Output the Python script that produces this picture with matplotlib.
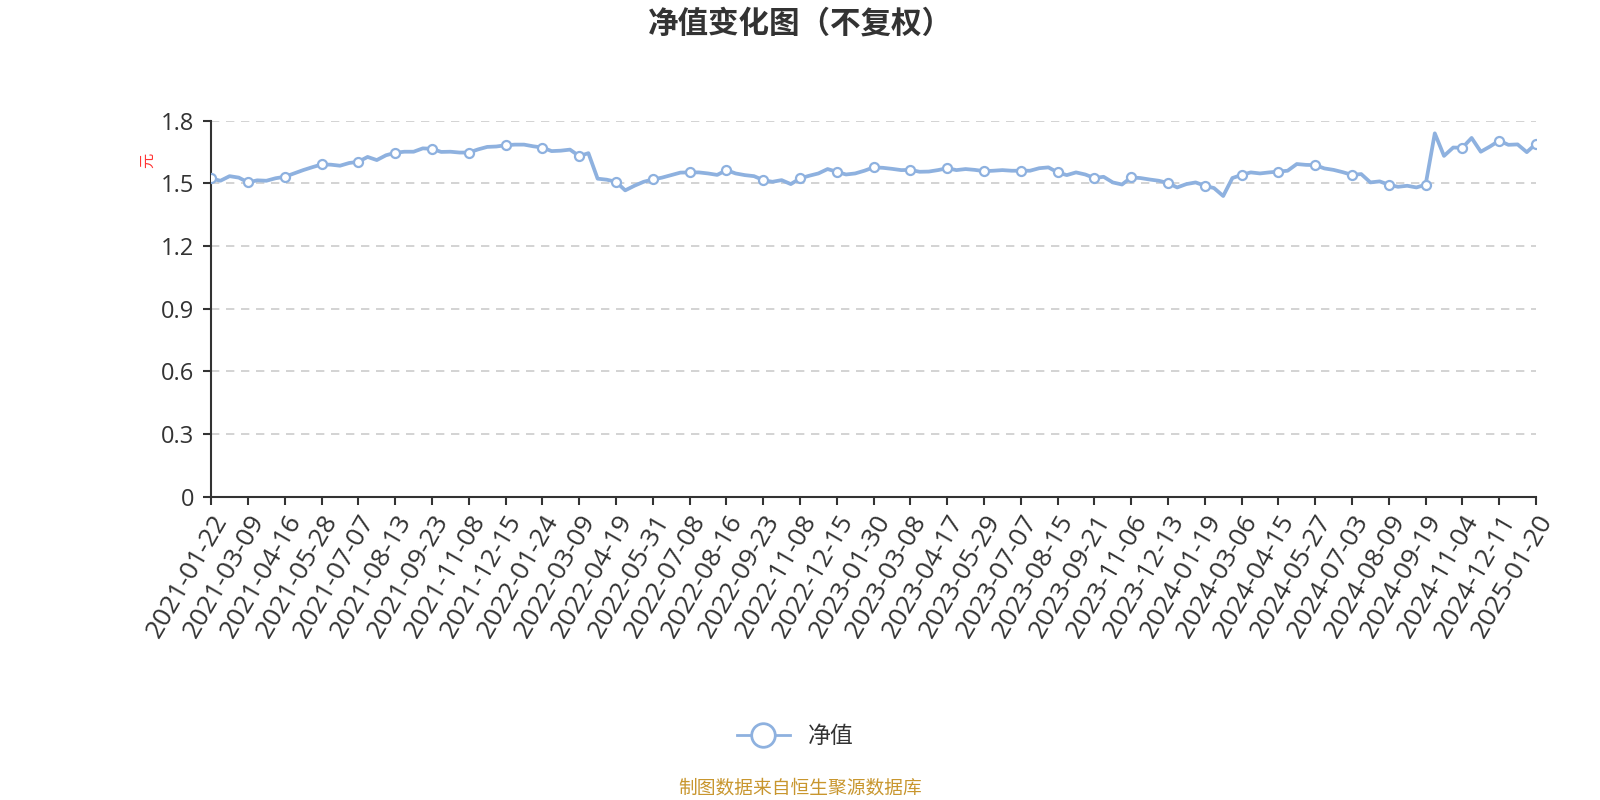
import matplotlib
matplotlib.use("Agg")
import matplotlib.pyplot as plt
from matplotlib.lines import Line2D
from matplotlib.ticker import FixedLocator, FuncFormatter

plt.rcParams['font.family'] = ['Noto Sans CJK SC', 'DejaVu Sans']

# tick dates (one every 4 data points)
tick_dates = ['2021-01-22', '2021-03-09', '2021-04-16', '2021-05-28', '2021-07-07',
              '2021-08-13', '2021-09-23', '2021-11-08', '2021-12-15', '2022-01-24',
              '2022-03-09', '2022-04-19', '2022-05-31', '2022-07-08', '2022-08-16',
              '2022-09-23', '2022-11-08', '2022-12-15', '2023-01-30', '2023-03-08',
              '2023-04-17', '2023-05-29', '2023-07-07', '2023-08-15', '2023-09-21',
              '2023-11-06', '2023-12-13', '2024-01-19', '2024-03-06', '2024-04-15',
              '2024-05-27', '2024-07-03', '2024-08-09', '2024-09-19', '2024-11-04',
              '2024-12-11', '2025-01-20']

# net value
nav = [1.524, 1.513, 1.535, 1.528,
       1.505, 1.515, 1.513, 1.525,
       1.532, 1.548, 1.564, 1.578,
       1.591, 1.590, 1.585, 1.598,
       1.604, 1.627, 1.612, 1.635,
       1.647, 1.652, 1.652, 1.668,
       1.666, 1.651, 1.652, 1.648,
       1.648, 1.663, 1.675, 1.677,
       1.683, 1.686, 1.686, 1.678,
       1.672, 1.655, 1.657, 1.662,
       1.631, 1.645, 1.523, 1.518,
       1.508, 1.467, 1.489, 1.508,
       1.519, 1.528, 1.540, 1.552,
       1.553, 1.553, 1.548, 1.541,
       1.564, 1.548, 1.540, 1.535,
       1.516, 1.508, 1.516, 1.497,
       1.524, 1.537, 1.548, 1.569,
       1.556, 1.543, 1.548, 1.561,
       1.577, 1.575, 1.570, 1.564,
       1.565, 1.556, 1.557, 1.564,
       1.573, 1.564, 1.569, 1.565,
       1.559, 1.561, 1.564, 1.561,
       1.561, 1.561, 1.573, 1.577,
       1.553, 1.540, 1.553, 1.543,
       1.526, 1.532, 1.505, 1.495,
       1.529, 1.526, 1.519, 1.513,
       1.502, 1.481, 1.497, 1.505,
       1.489, 1.478, 1.440, 1.526,
       1.541, 1.553, 1.548, 1.553,
       1.557, 1.561, 1.593, 1.589,
       1.588, 1.572, 1.565, 1.554,
       1.541, 1.545, 1.505, 1.510,
       1.494, 1.484, 1.489, 1.481,
       1.494, 1.740, 1.632, 1.672,
       1.671, 1.718, 1.652, 1.677,
       1.705, 1.685, 1.687, 1.650,
       1.690]

step = 4
x = list(range(len(nav)))

fig = plt.figure(figsize=(16, 8), dpi=100)
ax = fig.add_axes([0.132, 0.379, 0.828, 0.470])

line_color = '#8eb1df'
ax.plot(x, nav, color=line_color, lw=2.7, marker='o', markevery=step,
        markersize=6.5, markerfacecolor='white', markeredgecolor=line_color,
        markeredgewidth=1.6, zorder=3)

ax.set_xlim(0, len(nav) - 1)
ax.set_ylim(0, 1.8)
ax.yaxis.set_major_locator(FixedLocator([0, 0.3, 0.6, 0.9, 1.2, 1.5, 1.8]))
ax.yaxis.set_major_formatter(FuncFormatter(lambda v, p: '0' if v == 0 else f'{v:.1f}'))
ax.grid(axis='y', color='#cccccc', linestyle=(0, (5, 4)), lw=1.2)
ax.set_axisbelow(True)

ax.set_xticks(x[::step])
ax.set_xticklabels(tick_dates, rotation=60, ha='right', rotation_mode='anchor')

for s in ['top', 'right']:
    ax.spines[s].set_visible(False)
for s in ['left', 'bottom']:
    ax.spines[s].set_color('#333333')
    ax.spines[s].set_linewidth(1.5)
ax.tick_params(axis='both', colors='#333333', length=6, width=1.5)
ax.tick_params(axis='x', labelsize=19, pad=4)
ax.tick_params(axis='y', labelsize=17, pad=6)
for lab in ax.get_xticklabels() + ax.get_yticklabels():
    lab.set_family(['Open Sans', 'DejaVu Sans'])

fig.text(0.5, 0.971, '净值变化图（不复权）', ha='center', va='center',
         fontsize=22, fontweight='bold', color='#333333')
fig.text(0.0925, 0.80, '元', color='#ff3333', fontsize=11, rotation=90,
         ha='center', va='center')

handle = Line2D([], [], color=line_color, lw=2, marker='o', markersize=17,
                markerfacecolor='white', markeredgecolor=line_color,
                markeredgewidth=2)
fig.legend([handle], ['净值'], loc='center', bbox_to_anchor=(0.497, 0.079),
           frameon=False, fontsize=16.5, handlelength=2.3, labelcolor='#333333')
fig.text(0.5, 0.015, '制图数据来自恒生聚源数据库', ha='center', va='center',
         fontsize=13.5, color='#c8962e')

fig.savefig('out.png', dpi=100)
